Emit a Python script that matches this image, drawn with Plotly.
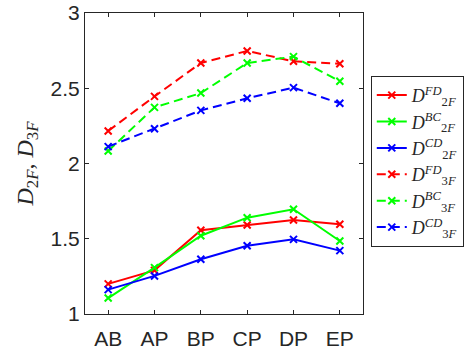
import plotly.graph_objects as go

categories = ["AB", "AP", "BP", "CP", "DP", "EP"]

d2f_fd = [1.20, 1.29, 1.556, 1.591, 1.625, 1.596]
d2f_bc = [1.106, 1.308, 1.52, 1.64, 1.696, 1.485]
d2f_cd = [1.162, 1.253, 1.364, 1.454, 1.496, 1.421]
d3f_fd = [2.216, 2.446, 2.668, 2.748, 2.679, 2.663]
d3f_bc = [2.083, 2.373, 2.468, 2.668, 2.71, 2.546]
d3f_cd = [2.112, 2.231, 2.353, 2.433, 2.504, 2.40]

y_ticks = [1, 1.5, 2, 2.5, 3]
y_tick_labels = ["1", "1.5", "2", "2.5", "3"]

series = [
    (d2f_fd, "<i>D</i><sup><i>FD</i></sup><sub>2<i>F</i></sub>", "#ff0000", "solid"),
    (d2f_bc, "<i>D</i><sup><i>BC</i></sup><sub>2<i>F</i></sub>", "#00ff00", "solid"),
    (d2f_cd, "<i>D</i><sup><i>CD</i></sup><sub>2<i>F</i></sub>", "#0000ff", "solid"),
    (d3f_fd, "<i>D</i><sup><i>FD</i></sup><sub>3<i>F</i></sub>", "#ff0000", "9px,5px"),
    (d3f_bc, "<i>D</i><sup><i>BC</i></sup><sub>3<i>F</i></sub>", "#00ff00", "9px,5px"),
    (d3f_cd, "<i>D</i><sup><i>CD</i></sup><sub>3<i>F</i></sub>", "#0000ff", "9px,5px"),
]

fig = go.Figure()
for vals, name, color, dash in series:
    fig.add_trace(go.Scatter(
        x=list(range(len(categories))), y=vals, name=name,
        mode="lines+markers",
        line=dict(color=color, width=2, dash=dash),
        marker=dict(symbol="x-thin", size=7, line=dict(color=color, width=2), color=color),
    ))

axis_color = "#262626"
fig.update_layout(
    width=466, height=353,
    margin=dict(l=85, r=103, t=13, b=39, autoexpand=False),
    plot_bgcolor="white", paper_bgcolor="white",
    font=dict(family="Liberation Sans, Arial, sans-serif", size=21, color=axis_color),
    xaxis=dict(
        range=[-0.5, 5.5], tickmode="array",
        tickvals=list(range(len(categories))), ticktext=categories,
        showline=True, linecolor=axis_color, linewidth=1, mirror="ticks",
        ticks="inside", ticklen=4, tickcolor=axis_color,
        showgrid=False, zeroline=False, automargin=False,
        tickfont=dict(size=21, color=axis_color),
        ticklabelstandoff=6,
    ),
    yaxis=dict(
        range=[1, 3], tickmode="array", tickvals=y_ticks, ticktext=y_tick_labels,
        showline=True, linecolor=axis_color, linewidth=1, mirror="ticks",
        ticks="inside", ticklen=4, tickcolor=axis_color,
        showgrid=False, zeroline=False, automargin=False,
        tickfont=dict(size=21, color=axis_color),
        title=dict(
            text="<i>D</i><sub>2<i>F</i></sub>, <i>D</i><sub>3<i>F</i></sub>",
            font=dict(family="Liberation Serif, Times New Roman, serif", size=24, color=axis_color),
            standoff=10,
        ),
    ),
    legend=dict(
        x=1.028, y=0.791, xanchor="left", yanchor="top",
        bordercolor=axis_color, borderwidth=1, bgcolor="white",
        font=dict(family="Liberation Serif, Times New Roman, serif", size=18, color=axis_color),
        tracegroupgap=0, itemwidth=30,
    ),
    showlegend=True,
)

fig.write_html("out.html")
